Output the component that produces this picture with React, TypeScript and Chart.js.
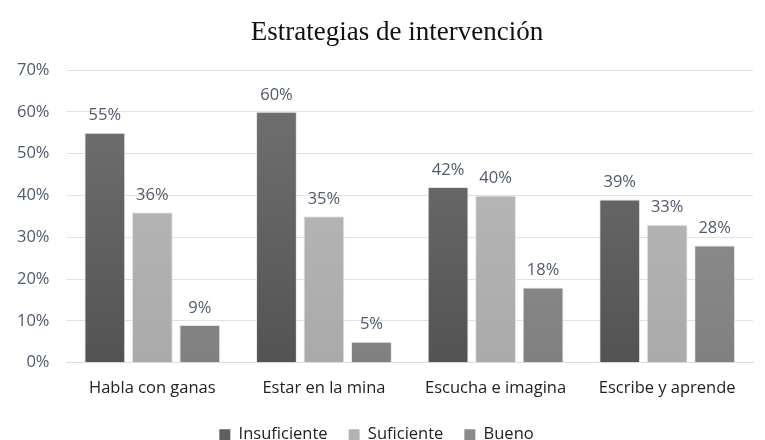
import React, { useEffect, useRef } from "react";
import { Chart, registerables } from "chart.js";

Chart.register(...registerables);

const TITLE = "Estrategias de intervención";
const categories = ["Habla con ganas", "Estar en la mina", "Escucha e imagina", "Escribe y aprende"];
const seriesNames = ["Insuficiente", "Suficiente", "Bueno"];
const insuficiente = [55, 60, 42, 39];
const suficiente = [36, 35, 40, 33];
const bueno = [9, 5, 18, 28];
const yTicks = [0, 10, 20, 30, 40, 50, 60, 70];

const solid = ["#5e5e5e", "#b3b3b3", "#8a8a8a"];
const gradTop = ["#737373", "#bcbcbc", "#959595"];
const gradBottom = ["#535353", "#aaaaaa", "#808080"];

const FONT = "'Open Sans', 'Noto Sans', sans-serif";
const FS = 16.5;
const TEXT = "#505a6a";

export default function App() {
  const ref = useRef<HTMLCanvasElement | null>(null);
  useEffect(() => {
    if (!ref.current) return;
    const makeBg = (i: number) => (ctx: any) => {
      const chart = ctx.chart;
      const area = chart.chartArea;
      if (!area || ctx.type !== "data") return solid[i];
      const el = ctx.element;
      const top = el && isFinite(el.y) ? el.y : area.top;
      const bottom = area.bottom;
      if (!(bottom > top)) return solid[i];
      const g = chart.ctx.createLinearGradient(0, top, 0, bottom);
      g.addColorStop(0, gradTop[i]);
      g.addColorStop(1, gradBottom[i]);
      return g;
    };
    const values = [insuficiente, suficiente, bueno];
    const chart = new Chart(ref.current, {
      type: "bar",
      data: {
        labels: categories,
        datasets: values.map((v, i) => ({
          label: seriesNames[i],
          data: v,
          backgroundColor: makeBg(i),
          borderColor: "#e6e6e6",
          borderWidth: 1,
          categoryPercentage: 0.83,
          barPercentage: 0.86,
        })),
      },
      options: {
        animation: false,
        responsive: false,
        layout: { padding: { top: 70, right: 12, left: 0, bottom: -13 } },
        scales: {
          x: {
            grid: { display: false },
            border: { color: "#d9dce3" },
            ticks: { color: "#222", font: { family: FONT, size: FS }, padding: 7.5 },
          },
          y: {
            min: 0,
            max: 70,
            afterBuildTicks: (axis: any) => {
              axis.ticks = yTicks.map((v) => ({ value: v }));
            },
            grid: { color: "#dde1e8", drawTicks: false },
            border: { display: false },
            ticks: {
              color: TEXT,
              font: { family: FONT, size: FS },
              padding: 17,
              callback: (v: any) => v + "%",
            },
          },
        },
        plugins: {
          title: { display: false },
          tooltip: { enabled: false },
          legend: {
            position: "bottom",
            labels: {
              color: "#222",
              font: { family: FONT, size: FS },
              boxWidth: 11,
              boxHeight: 11,
              padding: 21,
              generateLabels: () =>
                seriesNames.map((n, i) => ({
                  text: n,
                  fillStyle: solid[i],
                  strokeStyle: solid[i],
                  lineWidth: 0,
                  datasetIndex: i,
                  fontColor: "#222",
                })),
            },
          },
        },
      },
      plugins: [
        {
          id: "labelsAndTitle",
          afterDatasetsDraw(chart: any) {
            const c = chart.ctx;
            c.save();
            c.font = `${FS}px ${FONT}`;
            c.fillStyle = TEXT;
            c.textAlign = "center";
            c.textBaseline = "middle";
            chart.data.datasets.forEach((ds: any, di: number) => {
              const meta = chart.getDatasetMeta(di);
              meta.data.forEach((el: any, i: number) => {
                c.fillText(ds.data[i] + "%", el.x, el.y - 17);
              });
            });
            c.font = `27px 'Liberation Serif', 'Times New Roman', serif`;
            c.fillStyle = "#111";
            c.fillText(TITLE, 397, 33);
            c.restore();
          },
        },
      ],
    } as any);
    return () => chart.destroy();
  }, []);
  return (
    <div style={{ position: "fixed", left: 0, top: 0, width: 765, height: 440, background: "#fff" }}>
      <canvas ref={ref} width={765} height={440} />
    </div>
  );
}
